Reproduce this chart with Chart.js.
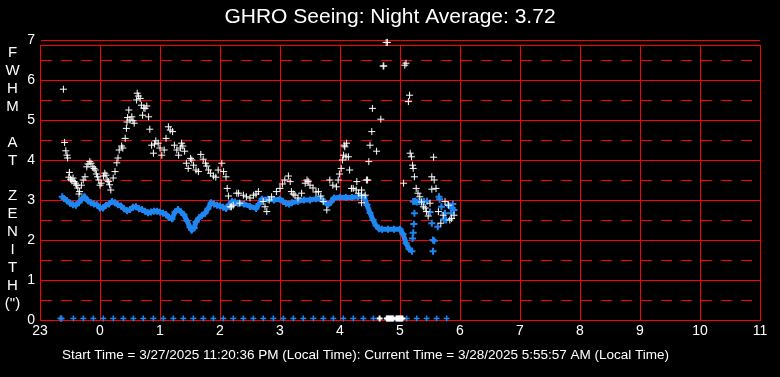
<!DOCTYPE html>
<html>
<head>
<meta charset="utf-8">
<script src="https://cdn.jsdelivr.net/npm/chart.js@4.4.1/dist/chart.umd.min.js"></script>
<style>
  html, body { margin: 0; padding: 0; background: #000; }
  #wrap { width: 780px; height: 377px; position: relative; }
</style>
</head>
<body>
<div id="wrap"><canvas id="seeingChart"></canvas></div>
<script>
const titleText = "GHRO Seeing: Night Average: 3.72";
const footerText = "Start Time = 3/27/2025 11:20:36 PM (Local Time): Current Time = 3/28/2025 5:55:57 AM (Local Time)";
const yTitleLetters = ["F", "W", "H", "M", "", "A", "T", "", "Z", "E", "N", "I", "T", "H", "(\")"];

// hours relative to local midnight (-1 = 23h)
const xTickLabels = ["23", "0", "1", "2", "3", "4", "5", "6", "7", "8", "9", "10", "11"];
const yTickValues = [0, 0.5, 1, 1.5, 2, 2.5, 3, 3.5, 4, 4.5, 5, 5.5, 6, 6.5, 6.875, 7];

// raw FWHM samples [hour, arcsec]
const rawSeeing = [
  [-0.61, 5.77], [-0.59, 4.44], [-0.57, 4.23], [-0.55, 4.12], [-0.54, 4.05], [-0.51, 3.69],
  [-0.52, 3.57], [-0.49, 3.52], [-0.47, 3.48], [-0.45, 3.55], [-0.43, 3.46], [-0.41, 3.42],
  [-0.39, 3.37], [-0.37, 3.3], [-0.34, 3.21], [-0.35, 3.15], [-0.31, 3.37], [-0.28, 3.5],
  [-0.25, 3.58], [-0.22, 3.83], [-0.2, 3.9], [-0.17, 3.96], [-0.15, 3.92], [-0.12, 3.83],
  [-0.1, 3.79], [-0.08, 3.75], [-0.06, 3.65], [-0.04, 3.58], [-0.02, 3.5], [0.0, 3.37],
  [0.02, 3.42], [0.06, 3.6], [0.08, 3.67], [0.1, 3.62], [0.12, 3.5], [0.14, 3.46],
  [0.16, 3.38], [0.18, 3.25], [0.22, 3.55], [0.25, 3.71], [0.28, 3.93], [0.3, 4.05],
  [0.32, 4.25], [0.36, 4.35], [0.38, 4.3], [0.42, 4.54], [0.44, 4.79], [0.45, 4.95],
  [0.46, 5.06], [0.48, 5.25], [0.5, 5.0], [0.53, 5.08], [0.55, 4.98], [0.57, 4.92],
  [0.61, 5.5], [0.62, 5.67], [0.64, 5.6], [0.67, 5.54], [0.69, 5.37], [0.71, 5.12],
  [0.73, 5.3], [0.75, 5.29], [0.78, 5.35], [0.81, 5.08], [0.83, 4.77], [0.86, 4.37],
  [0.89, 4.17], [0.91, 4.4], [0.93, 4.48], [0.97, 4.42], [1.0, 4.3], [1.03, 4.12],
  [1.07, 4.25], [1.1, 4.54], [1.14, 4.83], [1.17, 4.75], [1.21, 4.71], [1.24, 4.37],
  [1.28, 4.25], [1.31, 4.12], [1.34, 4.3], [1.36, 4.42], [1.38, 4.35], [1.41, 4.22],
  [1.44, 3.92], [1.47, 3.79], [1.51, 4.04], [1.53, 4.0], [1.56, 3.87], [1.6, 3.75],
  [1.64, 3.71], [1.68, 4.14], [1.72, 4.02], [1.76, 3.92], [1.78, 3.85], [1.81, 3.75],
  [1.84, 3.67], [1.89, 3.6], [1.93, 3.57], [1.97, 3.75], [2.03, 3.92], [2.06, 3.71],
  [2.1, 3.58], [2.12, 3.29], [2.14, 3.1], [2.17, 2.83], [2.19, 2.83], [2.22, 2.87],
  [2.28, 3.17], [2.31, 3.17], [2.33, 2.92], [2.39, 3.12], [2.44, 3.08], [2.5, 3.05],
  [2.56, 3.12], [2.6, 3.15], [2.64, 3.21], [2.72, 2.96], [2.75, 2.83], [2.78, 2.71],
  [2.82, 3.0], [2.86, 3.08], [2.94, 3.21], [3.0, 3.29], [3.04, 3.4], [3.08, 3.5],
  [3.14, 3.6], [3.17, 3.46], [3.19, 3.21], [3.22, 3.15], [3.25, 3.12], [3.3, 3.05],
  [3.36, 3.17], [3.42, 3.42], [3.45, 3.5], [3.47, 3.46], [3.5, 3.37], [3.55, 3.3],
  [3.6, 3.2], [3.64, 3.21], [3.68, 3.1], [3.72, 2.96], [3.78, 2.75], [3.83, 3.5],
  [3.88, 3.37], [3.94, 3.33], [3.97, 3.5], [3.99, 3.65], [4.02, 3.79], [4.04, 4.0],
  [4.06, 4.12], [4.07, 4.37], [4.08, 4.33], [4.1, 4.08], [4.11, 4.42], [4.14, 4.08],
  [4.16, 3.75], [4.19, 3.29], [4.22, 3.29], [4.27, 3.25], [4.28, 3.46], [4.31, 3.17],
  [4.36, 3.12], [4.36, 3.25], [4.36, 2.93], [4.42, 3.12], [4.44, 3.5], [4.46, 3.5],
  [4.48, 3.96], [4.5, 4.37], [4.53, 4.71], [4.54, 5.29], [4.61, 4.22], [4.68, 5.02],
  [4.72, 6.35], [4.73, 6.35], [4.77, 6.94], [4.79, 6.94], [5.06, 3.42], [5.08, 6.37],
  [5.1, 6.42], [5.14, 5.46], [5.16, 5.62], [5.17, 4.17], [5.19, 4.08], [5.21, 3.87],
  [5.22, 3.79], [5.24, 3.58], [5.27, 3.29], [5.3, 3.17], [5.33, 3.08], [5.36, 2.95],
  [5.39, 2.83], [5.42, 2.8], [5.44, 2.71], [5.47, 2.6], [5.5, 2.92], [5.53, 3.58],
  [5.53, 3.27], [5.56, 4.07], [5.57, 3.5], [5.6, 3.29], [5.64, 2.71], [5.68, 2.42],
  [5.72, 2.62], [5.75, 2.96], [5.81, 2.87], [5.83, 2.5], [5.86, 2.54], [5.9, 2.62]
];

// running average, continuous part
const avgHours = [
  -0.63, -0.6, -0.55, -0.5, -0.45, -0.4, -0.35, -0.3, -0.26, -0.2, -0.15, -0.1, -0.05,
  0.0, 0.05, 0.1, 0.15, 0.2, 0.25, 0.3, 0.35, 0.4, 0.45, 0.5, 0.55, 0.6, 0.65, 0.7,
  0.75, 0.8, 0.85, 0.9, 0.95, 1.0, 1.05, 1.1, 1.15, 1.2, 1.25, 1.3, 1.35, 1.4, 1.45,
  1.5, 1.53, 1.57, 1.6, 1.65, 1.7, 1.75, 1.8, 1.85, 1.9, 1.95, 2.0, 2.05, 2.1, 2.15,
  2.2, 2.25, 2.3, 2.4, 2.5, 2.6, 2.65, 2.7, 2.8, 2.9, 3.0, 3.05, 3.1, 3.15, 3.2, 3.3,
  3.4, 3.5, 3.6, 3.7, 3.8, 3.85, 3.9, 4.0, 4.1, 4.2, 4.3, 4.4, 4.45, 4.5, 4.55, 4.6,
  4.65, 4.7, 4.8, 4.9, 5.0, 5.05, 5.1, 5.15, 5.2
];
const avgSeeing = [
  3.08, 3.04, 2.98, 2.92, 2.88, 2.87, 2.94, 3.03, 3.08, 2.98, 2.93, 2.9, 2.88,
  2.8, 2.8, 2.87, 2.9, 2.96, 2.93, 2.88, 2.85, 2.78, 2.73, 2.76, 2.82, 2.83, 2.78, 2.76,
  2.72, 2.68, 2.7, 2.72, 2.72, 2.7, 2.67, 2.64, 2.56, 2.53, 2.7, 2.76, 2.7, 2.63, 2.48,
  2.32, 2.25, 2.3, 2.45, 2.55, 2.62, 2.67, 2.78, 2.93, 2.9, 2.87, 2.85, 2.82, 2.79, 2.88,
  2.96, 2.95, 2.92, 2.9, 2.84, 2.79, 2.9, 3.02, 3.02, 3.0, 3.02, 2.96, 2.92, 2.9, 2.93, 2.97,
  3.0, 3.0, 3.03, 3.02, 2.88, 2.95, 3.05, 3.07, 3.06, 3.06, 3.08, 3.08, 2.88, 2.68, 2.5, 2.36,
  2.28, 2.27, 2.27, 2.27, 2.27, 2.15, 1.92, 1.78, 1.72
];

// running average, scattered tail
const avgTail = [
  [5.22, 2.96], [5.25, 2.97], [5.28, 2.95], [5.32, 2.96], [5.36, 2.95], [5.4, 2.96],
  [5.45, 2.97], [5.24, 2.67], [5.23, 2.4], [5.22, 2.18], [5.21, 2.04], [5.5, 2.7],
  [5.53, 2.42], [5.55, 2.0], [5.57, 1.98], [5.55, 1.72], [5.65, 3.08], [5.66, 3.02],
  [5.69, 2.83], [5.63, 2.33], [5.75, 2.67], [5.73, 2.52], [5.8, 2.88], [5.83, 2.85],
  [5.87, 2.8], [5.85, 2.67], [5.77, 2.5], [5.9, 2.75], [5.88, 2.9]
];

// markers along the bottom
const markerLevel = 0.04;
const blueMarkHours = [
  -0.66, -0.65, -0.64, -0.444, -0.278, -0.111, 0.056, 0.222, 0.389, 0.556, 0.722, 0.889,
  1.056, 1.222, 1.389, 1.556, 1.722, 1.889, 2.056, 2.222, 2.389, 2.556, 2.722, 2.889,
  3.056, 3.222, 3.389, 3.556, 3.722, 3.889, 4.056, 4.222, 4.389, 4.556, 4.9, 5.111,
  5.278, 5.444, 5.611, 5.778
];
const whiteMarkHours = [4.66, 4.78, 4.8, 4.82, 4.84, 4.86, 4.88, 4.94, 4.96, 4.98, 5.0, 5.02, 5.04];

const RED = "#ff0000";
const BLUE = "#1f86f0";
const FONT = "'Liberation Sans', Arial, sans-serif";

const textPlugin = {
  id: "seeingText",
  afterDraw(chart) {
    const c = chart.ctx;
    c.save();
    c.fillStyle = "#ffffff";
    c.textBaseline = "middle";
    c.textAlign = "center";
    c.font = "21px " + FONT;
    c.fillText(titleText, 390, 17);
    c.font = "15px " + FONT;
    yTitleLetters.forEach((ch, i) => c.fillText(ch, 12.5, 53 + i * 17.9));
    c.textAlign = "left";
    c.font = "13.5px " + FONT;
    c.fillText(footerText, 62, 355);
    c.restore();
  }
};

const ctx = document.getElementById("seeingChart").getContext("2d");
const seeingChart = new Chart(ctx, {
  type: "scatter",
  data: {
    datasets: [
      {
        data: rawSeeing.map(p => ({ x: p[0], y: p[1] })),
        pointStyle: "cross",
        radius: 3.5,
        borderWidth: 1,
        borderColor: "#ffffff",
        clip: false,
        order: 0,
      },
      {
        data: whiteMarkHours.map(h => ({ x: h, y: markerLevel })),
        pointStyle: "cross",
        radius: 3,
        borderWidth: 2,
        borderColor: "#ffffff",
        clip: false,
        order: 0,
      },
      {
        data: avgHours.map((h, i) => ({ x: h, y: avgSeeing[i] })),
        showLine: true,
        borderColor: BLUE,
        borderWidth: 5,
        pointStyle: "cross",
        pointRadius: 3.5,
        pointBorderWidth: 2,
        pointBorderColor: BLUE,
        order: 1,
      },
      {
        data: avgTail.map(p => ({ x: p[0], y: p[1] })),
        pointStyle: "cross",
        radius: 3.5,
        borderWidth: 2,
        borderColor: BLUE,
        order: 1,
      },
      {
        data: blueMarkHours.map(h => ({ x: h, y: markerLevel })),
        pointStyle: "cross",
        radius: 3,
        borderWidth: 1.5,
        borderColor: BLUE,
        clip: false,
        order: 1,
      },
    ],
  },
  options: {
    responsive: true,
    maintainAspectRatio: false,
    animation: false,
    layout: { padding: { left: 0, right: 20, top: 45, bottom: 0 } },
    scales: {
      x: {
        type: "linear",
        min: -1,
        max: 11,
        afterFit: s => { s.height = 57; },
        ticks: {
          stepSize: 1,
          autoSkip: false,
          maxRotation: 0,
          padding: 3,
          color: "#ffffff",
          font: { family: FONT, size: 14 },
          callback: v => xTickLabels[Math.round(v) + 1],
        },
        grid: { color: RED, lineWidth: 1, drawTicks: false },
        border: { color: RED, width: 1 },
      },
      y: {
        type: "linear",
        min: 0,
        // a hair above 6.875 so every grid line lands on a whole pixel row
        max: 6.8751,
        afterFit: s => { s.width = 40; },
        afterBuildTicks: s => { s.ticks = yTickValues.map(v => ({ value: v })); },
        ticks: {
          autoSkip: false,
          padding: 5,
          color: "#ffffff",
          font: { family: FONT, size: 14 },
          callback: v => (Number.isInteger(v) ? String(v) : ""),
        },
        grid: { color: RED, lineWidth: 1, drawTicks: false },
        border: {
          color: RED,
          width: 1,
          dash: c => (c.tick && c.tick.value % 1 === 0.5 ? [11, 9] : []),
        },
      },
    },
    plugins: {
      legend: { display: false },
      tooltip: { enabled: false },
    },
  },
  plugins: [textPlugin],
});
</script>
</body>
</html>
